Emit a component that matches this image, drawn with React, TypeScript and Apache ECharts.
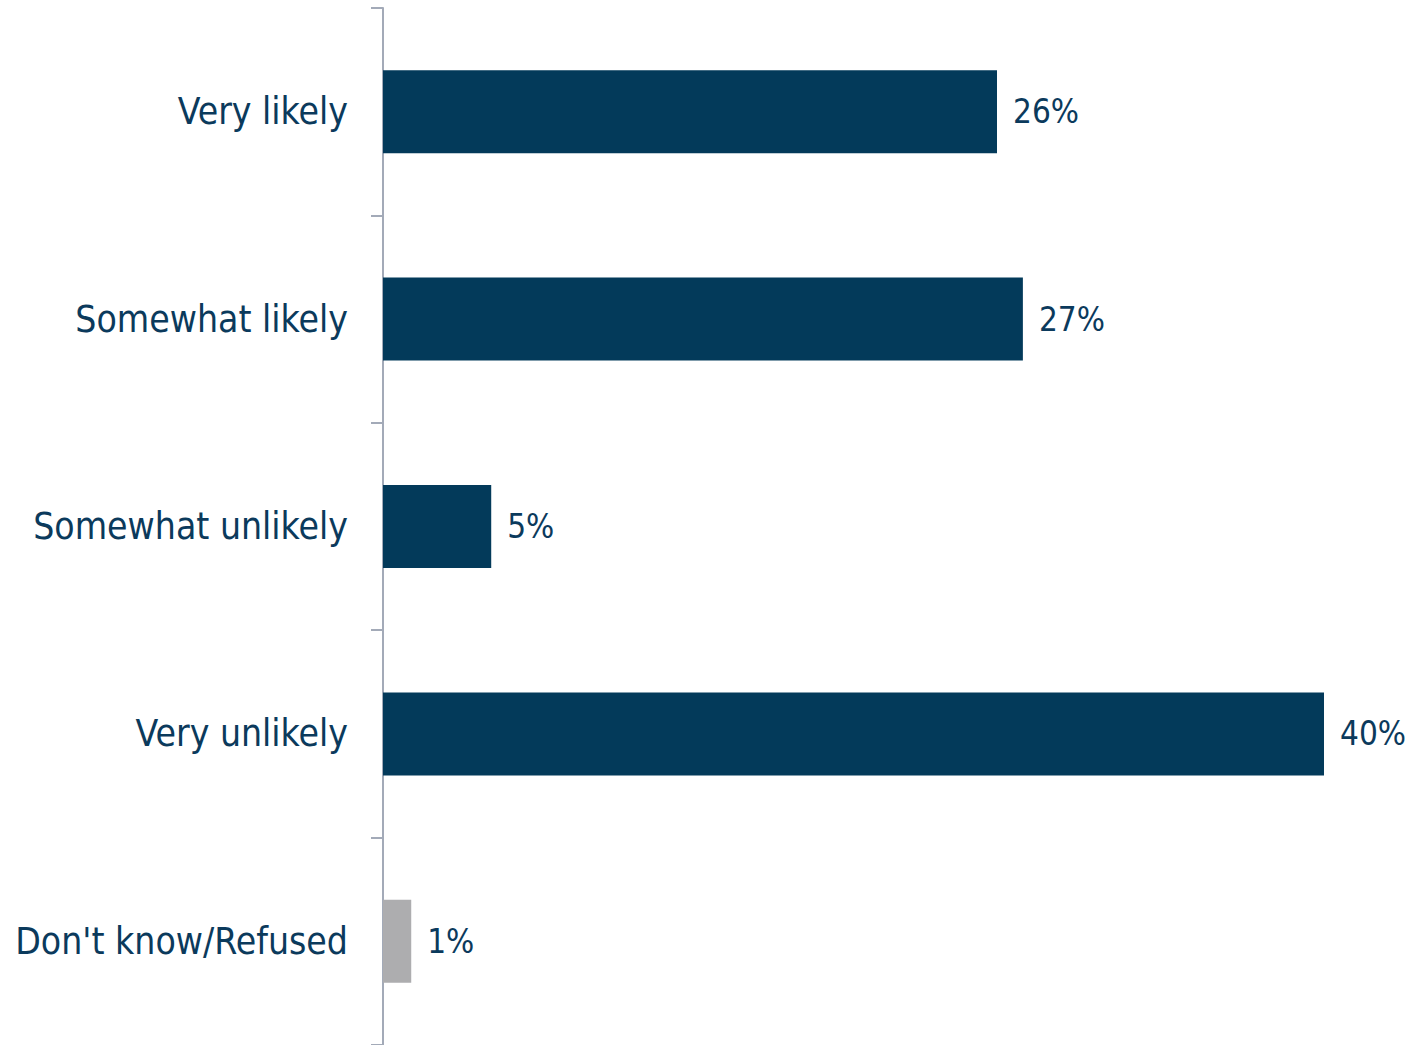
import React, { useEffect, useRef } from "react";
import * as echarts from "echarts";

const categories = ["Very likely", "Somewhat likely", "Somewhat unlikely", "Very unlikely", "Don't know/Refused"];
const values = [26.1, 27.2, 4.6, 40.0, 1.2];
const barColors = ["#033a5a", "#033a5a", "#033a5a", "#033a5a", "#adadaf"];

const FONT = "'DejaVu Sans Condensed', 'DejaVu Sans', sans-serif";
const TEXT = "#0b3a5c";

export default function App() {
  const ref = useRef<HTMLDivElement>(null);
  useEffect(() => {
    if (!ref.current) return;
    const chart = echarts.init(ref.current, null, { renderer: "svg" });
    chart.setOption({
      animation: false,
      grid: { left: 383, top: 8, width: 941, height: 1040 },
      xAxis: {
        type: "value",
        min: 0,
        max: 40,
        show: false,
      },
      yAxis: {
        type: "category",
        inverse: true,
        data: categories,
        axisLine: { show: true, lineStyle: { color: "#a3aab8", width: 2 } },
        axisTick: { show: true, length: 12, lineStyle: { color: "#a3aab8", width: 2 } },
        axisLabel: { color: TEXT, fontSize: 37, fontFamily: FONT, margin: 35 },
        splitLine: { show: false },
      },
      series: [
        {
          type: "bar",
          barWidth: 83,
          data: values.map((v, i) => ({ value: v, itemStyle: { color: barColors[i] } })),
          label: {
            show: true,
            position: "right",
            distance: 16,
            color: TEXT,
            fontSize: 33,
            fontFamily: FONT,
            formatter: (p: any) => Math.round(p.value) + "%",
          },
        },
      ],
    });
    return () => chart.dispose();
  }, []);
  return <div ref={ref} style={{ position: "fixed", left: 0, top: 0, width: 1408, height: 1045, background: "#fff" }} />;
}
